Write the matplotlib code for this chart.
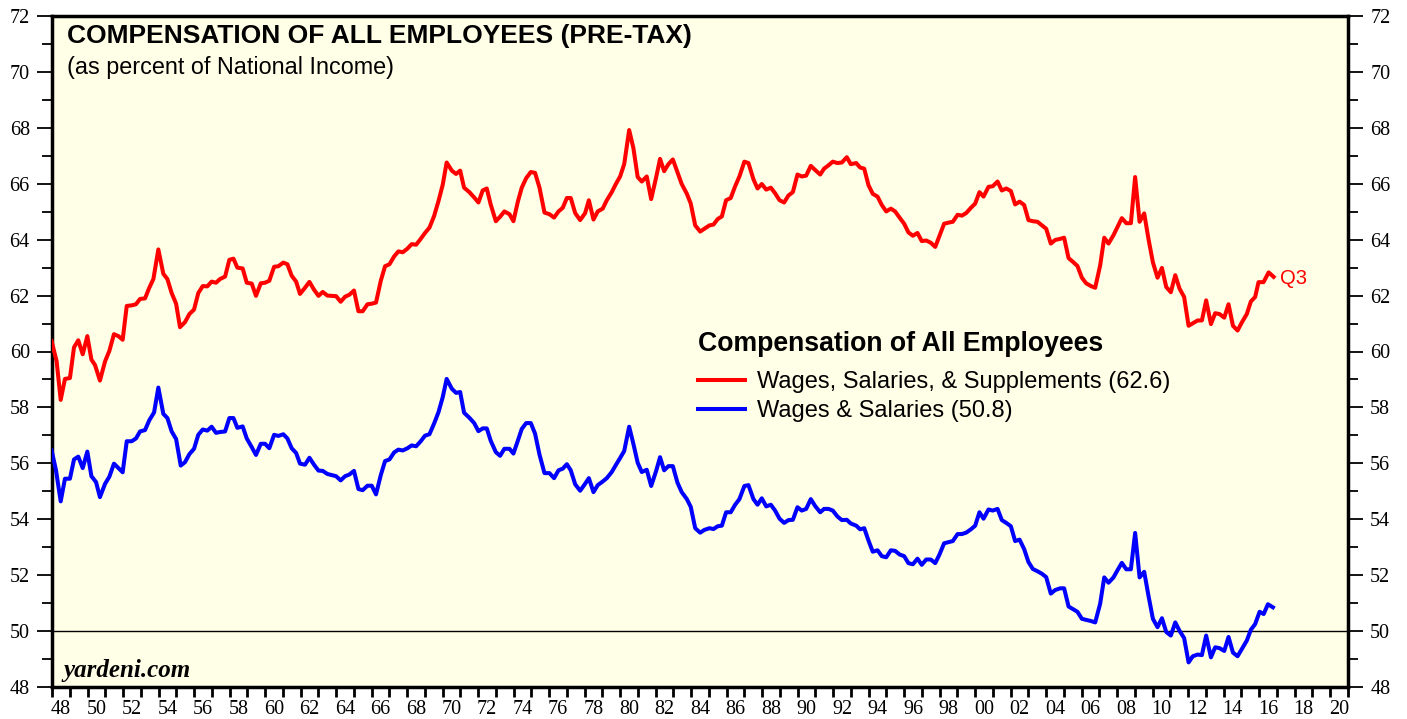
import matplotlib
matplotlib.use("Agg")
import matplotlib.pyplot as plt
import numpy as np

# Wages, Salaries & Supplements (% of national income)
red_years = [
    1947.98, 1948.26, 1948.49, 1948.73, 1949.01, 1949.24, 1949.48, 1949.73, 1949.99, 1950.22,
    1950.42, 1950.70, 1950.99, 1951.23, 1951.49, 1951.74, 1951.98, 1952.21, 1952.49, 1952.73,
    1952.96, 1953.24, 1953.48, 1953.71, 1953.99, 1954.27, 1954.50, 1954.74, 1954.99, 1955.21,
    1955.49, 1955.74, 1956.00, 1956.24, 1956.49, 1956.75, 1956.99, 1957.24, 1957.46, 1957.75,
    1957.99, 1958.22, 1958.44, 1958.74, 1958.97, 1959.25, 1959.49, 1959.76, 1960.00, 1960.24,
    1960.51, 1960.75, 1961.03, 1961.26, 1961.50, 1961.75, 1961.97, 1962.25, 1962.50, 1962.76,
    1963.01, 1963.25, 1963.51, 1963.76, 1964.00, 1964.26, 1964.51, 1964.75, 1965.01, 1965.26,
    1965.50, 1965.77, 1966.01, 1966.25, 1966.52, 1966.76, 1967.01, 1967.27, 1967.51, 1967.76,
    1968.02, 1968.26, 1968.51, 1968.77, 1969.01, 1969.26, 1969.52, 1969.77, 1970.01, 1970.23,
    1970.52, 1970.76, 1970.99, 1971.21, 1971.51, 1971.78, 1972.02, 1972.26, 1972.49, 1972.71,
    1973.00, 1973.24, 1973.48, 1973.77, 1973.99, 1974.24, 1974.46, 1974.71, 1974.97, 1975.21,
    1975.46, 1975.74, 1976.02, 1976.28, 1976.53, 1976.77, 1977.00, 1977.22, 1977.47, 1977.75,
    1978.03, 1978.24, 1978.50, 1978.74, 1979.02, 1979.25, 1979.53, 1979.76, 1980.00, 1980.23,
    1980.51, 1980.75, 1980.99, 1981.22, 1981.50, 1981.75, 1982.03, 1982.25, 1982.48, 1982.72,
    1982.97, 1983.23, 1983.47, 1983.76, 1983.98, 1984.23, 1984.51, 1984.75, 1985.03, 1985.26,
    1985.50, 1985.73, 1985.97, 1986.23, 1986.48, 1986.72, 1987.00, 1987.23, 1987.51, 1987.74,
    1987.98, 1988.23, 1988.49, 1988.73, 1988.98, 1989.24, 1989.48, 1989.73, 1989.99, 1990.23,
    1990.48, 1990.74, 1990.99, 1991.27, 1991.49, 1991.74, 1991.98, 1992.24, 1992.49, 1992.77,
    1992.99, 1993.30, 1993.52, 1993.75, 1993.99, 1994.23, 1994.50, 1994.74, 1994.99, 1995.25,
    1995.49, 1995.74, 1996.00, 1996.24, 1996.49, 1996.75, 1996.99, 1997.24, 1997.50, 1997.75,
    1997.99, 1998.25, 1998.50, 1998.74, 1999.01, 1999.25, 1999.49, 1999.76, 2000.00, 2000.24,
    2000.47, 2000.75, 2000.99, 2001.26, 2001.50, 2001.75, 2002.01, 2002.25, 2002.50, 2002.76,
    2003.00, 2003.25, 2003.51, 2003.76, 2004.00, 2004.26, 2004.51, 2004.79, 2005.01, 2005.26,
    2005.50, 2005.76, 2006.01, 2006.25, 2006.52, 2006.76, 2007.04, 2007.27, 2007.51, 2007.79,
    2008.02, 2008.26, 2008.51, 2008.77, 2009.01, 2009.26, 2009.52, 2009.76, 2010.01, 2010.27,
    2010.52, 2010.76, 2011.02, 2011.27, 2011.51, 2011.77, 2012.02, 2012.26, 2012.53, 2012.77,
    2013.01, 2013.28, 2013.52, 2013.76, 2014.03, 2014.27, 2014.52, 2014.78, 2015.02, 2015.30,
    2015.53, 2015.77, 2015.96, 2016.24, 2016.53, 2016.81,
]
red_vals = [
    60.37, 59.65, 58.27, 59.02, 59.05, 60.15, 60.40, 59.90, 60.55, 59.71,
    59.52, 58.96, 59.65, 60.02, 60.62, 60.55, 60.42, 61.63, 61.65, 61.69,
    61.88, 61.90, 62.28, 62.59, 63.65, 62.78, 62.59, 62.09, 61.71, 60.87,
    61.05, 61.34, 61.50, 62.09, 62.34, 62.33, 62.50, 62.46, 62.59, 62.68,
    63.28, 63.32, 63.00, 62.97, 62.46, 62.43, 61.99, 62.44, 62.46, 62.53,
    63.03, 63.05, 63.18, 63.12, 62.71, 62.50, 62.06, 62.28, 62.49, 62.21,
    61.99, 62.13, 62.00, 61.99, 61.98, 61.78, 61.96, 62.03, 62.18, 61.44,
    61.44, 61.69, 61.71, 61.75, 62.53, 63.05, 63.12, 63.40, 63.58, 63.55,
    63.68, 63.84, 63.82, 64.03, 64.24, 64.43, 64.84, 65.38, 65.97, 66.76,
    66.47, 66.35, 66.47, 65.86, 65.70, 65.51, 65.33, 65.76, 65.83, 65.26,
    64.66, 64.82, 65.01, 64.91, 64.66, 65.36, 65.86, 66.20, 66.42, 66.39,
    65.86, 64.97, 64.91, 64.79, 65.01, 65.14, 65.49, 65.49, 64.95, 64.70,
    64.95, 65.41, 64.72, 65.01, 65.11, 65.41, 65.70, 65.99, 66.26, 66.70,
    67.92, 67.27, 66.24, 66.08, 66.26, 65.45, 66.23, 66.89, 66.45, 66.70,
    66.87, 66.41, 65.99, 65.64, 65.29, 64.51, 64.29, 64.39, 64.51, 64.54,
    64.74, 64.83, 65.41, 65.49, 65.91, 66.26, 66.79, 66.74, 66.16, 65.83,
    65.99, 65.79, 65.86, 65.66, 65.41, 65.33, 65.58, 65.70, 66.33, 66.26,
    66.29, 66.64, 66.49, 66.33, 66.54, 66.66, 66.79, 66.74, 66.76, 66.95,
    66.70, 66.74, 66.58, 66.54, 65.95, 65.64, 65.54, 65.24, 65.01, 65.11,
    65.01, 64.79, 64.57, 64.26, 64.14, 64.24, 63.95, 63.97, 63.89, 63.74,
    64.14, 64.57, 64.61, 64.64, 64.89, 64.86, 64.95, 65.14, 65.29, 65.70,
    65.54, 65.89, 65.91, 66.08, 65.76, 65.83, 65.74, 65.26, 65.36, 65.24,
    64.70, 64.66, 64.64, 64.51, 64.39, 63.86, 63.99, 64.03, 64.07, 63.34,
    63.21, 63.06, 62.64, 62.44, 62.34, 62.28, 63.08, 64.07, 63.86, 64.16,
    64.46, 64.77, 64.59, 64.59, 66.24, 64.64, 64.94, 64.03, 63.19, 62.64,
    62.99, 62.31, 62.12, 62.73, 62.25, 61.95, 60.92, 61.01, 61.11, 61.11,
    61.83, 60.98, 61.37, 61.34, 61.21, 61.69, 60.92, 60.75, 61.04, 61.34,
    61.79, 61.95, 62.48, 62.48, 62.83, 62.67,
]

# Wages & Salaries (% of national income)
blue_years = [
    1947.98, 1948.22, 1948.49, 1948.73, 1949.01, 1949.24, 1949.48, 1949.73, 1949.99, 1950.22,
    1950.48, 1950.70, 1950.99, 1951.23, 1951.49, 1951.74, 1951.98, 1952.21, 1952.49, 1952.73,
    1952.96, 1953.24, 1953.48, 1953.75, 1953.99, 1954.27, 1954.50, 1954.74, 1954.99, 1955.25,
    1955.49, 1955.74, 1956.00, 1956.24, 1956.49, 1956.75, 1956.99, 1957.24, 1957.46, 1957.75,
    1957.99, 1958.22, 1958.44, 1958.74, 1958.97, 1959.25, 1959.49, 1959.76, 1960.00, 1960.24,
    1960.51, 1960.75, 1961.03, 1961.26, 1961.50, 1961.75, 1961.97, 1962.25, 1962.50, 1962.76,
    1963.01, 1963.25, 1963.51, 1963.76, 1964.00, 1964.26, 1964.51, 1964.75, 1965.01, 1965.26,
    1965.50, 1965.77, 1966.01, 1966.25, 1966.52, 1966.76, 1967.01, 1967.27, 1967.51, 1967.76,
    1968.02, 1968.26, 1968.51, 1968.77, 1969.01, 1969.26, 1969.52, 1969.77, 1970.01, 1970.23,
    1970.52, 1970.76, 1970.99, 1971.21, 1971.51, 1971.78, 1972.02, 1972.26, 1972.49, 1972.71,
    1973.00, 1973.24, 1973.48, 1973.77, 1973.99, 1974.24, 1974.46, 1974.71, 1974.97, 1975.21,
    1975.46, 1975.74, 1976.02, 1976.28, 1976.53, 1976.77, 1977.00, 1977.22, 1977.47, 1977.75,
    1978.03, 1978.24, 1978.50, 1978.74, 1979.02, 1979.25, 1979.53, 1979.76, 1980.00, 1980.23,
    1980.51, 1980.75, 1980.99, 1981.22, 1981.50, 1981.75, 1982.03, 1982.25, 1982.48, 1982.72,
    1982.97, 1983.23, 1983.47, 1983.76, 1983.98, 1984.23, 1984.51, 1984.75, 1985.03, 1985.26,
    1985.50, 1985.73, 1985.97, 1986.23, 1986.48, 1986.72, 1987.00, 1987.23, 1987.51, 1987.74,
    1987.98, 1988.23, 1988.49, 1988.73, 1988.98, 1989.24, 1989.48, 1989.73, 1989.99, 1990.23,
    1990.48, 1990.74, 1990.99, 1991.27, 1991.49, 1991.74, 1991.98, 1992.24, 1992.49, 1992.77,
    1992.99, 1993.30, 1993.52, 1993.75, 1993.99, 1994.23, 1994.50, 1994.74, 1994.99, 1995.25,
    1995.49, 1995.74, 1996.00, 1996.24, 1996.49, 1996.75, 1996.99, 1997.24, 1997.50, 1997.75,
    1997.99, 1998.25, 1998.50, 1998.74, 1999.01, 1999.25, 1999.49, 1999.76, 2000.00, 2000.24,
    2000.47, 2000.75, 2000.99, 2001.26, 2001.50, 2001.75, 2002.01, 2002.25, 2002.50, 2002.76,
    2003.00, 2003.25, 2003.51, 2003.76, 2004.00, 2004.26, 2004.51, 2004.79, 2005.01, 2005.26,
    2005.50, 2005.76, 2006.01, 2006.25, 2006.52, 2006.76, 2007.04, 2007.27, 2007.51, 2007.79,
    2008.02, 2008.26, 2008.51, 2008.77, 2009.01, 2009.26, 2009.52, 2009.76, 2010.01, 2010.27,
    2010.52, 2010.76, 2011.02, 2011.27, 2011.51, 2011.77, 2012.02, 2012.26, 2012.53, 2012.77,
    2013.01, 2013.28, 2013.52, 2013.76, 2014.03, 2014.27, 2014.52, 2014.78, 2015.02, 2015.30,
    2015.53, 2015.77, 2016.02, 2016.25, 2016.49, 2016.77,
]
blue_vals = [
    56.46, 55.77, 54.64, 55.45, 55.45, 56.14, 56.24, 55.83, 56.42, 55.54,
    55.33, 54.79, 55.27, 55.52, 55.99, 55.83, 55.68, 56.79, 56.79, 56.89,
    57.14, 57.19, 57.54, 57.82, 58.71, 57.77, 57.62, 57.14, 56.87, 55.92,
    56.04, 56.33, 56.52, 57.02, 57.21, 57.17, 57.31, 57.09, 57.12, 57.14,
    57.62, 57.62, 57.27, 57.32, 56.89, 56.58, 56.30, 56.70, 56.70, 56.54,
    57.02, 56.98, 57.04, 56.89, 56.54, 56.37, 55.99, 55.95, 56.20, 55.95,
    55.74, 55.73, 55.62, 55.58, 55.54, 55.39, 55.54, 55.60, 55.73, 55.08,
    55.04, 55.20, 55.20, 54.89, 55.58, 56.08, 56.14, 56.39, 56.49, 56.46,
    56.54, 56.64, 56.61, 56.79, 56.99, 57.04, 57.42, 57.83, 58.37, 59.02,
    58.67, 58.52, 58.55, 57.81, 57.63, 57.44, 57.15, 57.25, 57.25, 56.81,
    56.40, 56.27, 56.52, 56.52, 56.35, 56.81, 57.23, 57.44, 57.44, 57.06,
    56.31, 55.65, 55.65, 55.47, 55.75, 55.81, 55.97, 55.75, 55.25, 55.02,
    55.27, 55.47, 54.97, 55.22, 55.35, 55.47, 55.69, 55.94, 56.19, 56.44,
    57.31, 56.69, 56.02, 55.69, 55.77, 55.19, 55.73, 56.22, 55.75, 55.90,
    55.90, 55.31, 54.97, 54.72, 54.44, 53.68, 53.52, 53.62, 53.68, 53.65,
    53.75, 53.77, 54.25, 54.25, 54.52, 54.72, 55.19, 55.22, 54.72, 54.52,
    54.75, 54.46, 54.52, 54.31, 54.02, 53.87, 53.97, 53.98, 54.43, 54.31,
    54.37, 54.72, 54.47, 54.25, 54.37, 54.37, 54.31, 54.10, 53.97, 53.98,
    53.85, 53.77, 53.64, 53.68, 53.24, 52.84, 52.89, 52.68, 52.64, 52.89,
    52.87, 52.74, 52.68, 52.43, 52.39, 52.59, 52.37, 52.56, 52.56, 52.43,
    52.74, 53.14, 53.18, 53.22, 53.47, 53.47, 53.52, 53.64, 53.77, 54.25,
    54.02, 54.35, 54.31, 54.37, 53.97, 53.87, 53.75, 53.22, 53.27, 52.93,
    52.47, 52.22, 52.14, 52.05, 51.93, 51.34, 51.47, 51.53, 51.53, 50.88,
    50.79, 50.69, 50.44, 50.40, 50.36, 50.31, 50.98, 51.92, 51.73, 51.92,
    52.18, 52.44, 52.21, 52.21, 53.51, 51.92, 52.12, 51.27, 50.44, 50.14,
    50.46, 49.97, 49.84, 50.31, 50.01, 49.75, 48.88, 49.10, 49.16, 49.14,
    49.84, 49.06, 49.42, 49.39, 49.29, 49.79, 49.23, 49.10, 49.36, 49.66,
    50.05, 50.25, 50.69, 50.61, 50.96, 50.85,
]

red_label = "Wages, Salaries, & Supplements (62.6)"
blue_label = "Wages & Salaries (50.8)"
legend_title = "Compensation of All Employees"
title = "COMPENSATION OF ALL EMPLOYEES (PRE-TAX)"
subtitle = "(as percent of National Income)"
last_quarter = "Q3"

year_ticks = np.arange(1948, 2022)
label_years = np.arange(1948, 2021, 2)
y_major = np.arange(48, 73, 2)
y_minor = np.arange(49, 72, 2)

SANS = "Liberation Sans"
SERIF = "Liberation Serif"

fig = plt.figure(figsize=(14.07, 7.19), dpi=100)
ax = fig.add_axes([52 / 1407, 32 / 719, 1296 / 1407, 671 / 719])
ax.set_facecolor("#fffee6")

ax.axhline(50, color="black", lw=1.0, zorder=1)
ax.plot(red_years, red_vals, color="#ff0000", lw=2.9, label=red_label,
        solid_joinstyle="round", zorder=3)
ax.plot(blue_years, blue_vals, color="#0000ff", lw=2.9, label=blue_label,
        solid_joinstyle="round", zorder=3)

ax.annotate(last_quarter, (red_years[-1], red_vals[-1]), xytext=(4.5, -1.5),
            textcoords="offset points", color="#ff0000", fontsize=14.5,
            family=SANS, va="center", ha="left")

ax.set_xlim(1948, 2021)
ax.set_ylim(48, 72)

# y axis, labelled on both sides
ax.set_yticks(y_major)
ax.set_yticks(y_minor, minor=True)
ax.set_yticklabels([str(v) for v in y_major], family=SERIF, fontsize=14.5)
ax.tick_params(axis="y", which="major", direction="out", length=11, width=1.3,
               left=True, right=True, labelleft=True, labelright=True, pad=5)
ax.tick_params(axis="y", which="minor", direction="out", length=7, width=1.3,
               left=True, right=True)

# x axis: a tick every year, labels centred between ticks
ax.set_xticks(year_ticks)
ax.set_xticklabels([])
ax.set_xticks(label_years + 0.5, minor=True)
ax.set_xticklabels(["%02d" % (y % 100) for y in label_years], minor=True,
                   family=SERIF, fontsize=14.5)
ax.tick_params(axis="x", which="major", direction="out", length=7, width=2)
ax.tick_params(axis="x", which="minor", length=0, pad=9)

for s in ax.spines.values():
    s.set_linewidth(2.5)

ax.text(0.0113, 0.9593, title, transform=ax.transAxes, family=SANS,
        fontweight="bold", fontsize=19, va="baseline", ha="left")
ax.text(0.0113, 0.9136, subtitle, transform=ax.transAxes, family=SANS,
        fontsize=16.8, va="baseline", ha="left")
ax.text(0.0085, 0.0149, "yardeni.com", transform=ax.transAxes, family=SERIF,
        fontweight="bold", style="italic", fontsize=18, va="baseline", ha="left")

leg = ax.legend(loc="upper left", bbox_to_anchor=(0.4985, 0.530), frameon=False,
                title=legend_title, alignment="left", handlelength=2.0,
                handletextpad=0.5, labelspacing=0.3, borderaxespad=0,
                borderpad=0, prop={"family": SANS, "size": 17},
                title_fontproperties={"family": SANS, "weight": "bold", "size": 19.2})
leg._legend_box.sep = 10

fig.savefig("out.png", dpi=100, facecolor="white")
